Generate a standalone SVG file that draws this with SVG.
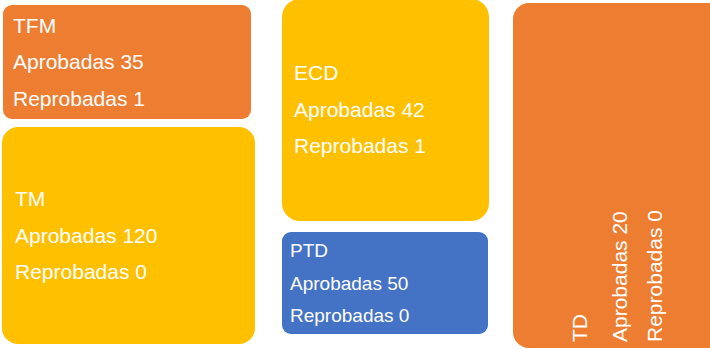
<svg xmlns="http://www.w3.org/2000/svg" width="710" height="349" viewBox="0 0 710 349">
<style>
.o{fill:#ED7D31}.y{fill:#FFC000}.b{fill:#4472C4}
text{font-family:"Liberation Sans",Arial,sans-serif;fill:#fff;font-size:21px}
.s{font-size:19px}
</style>
<rect width="710" height="349" fill="#fff"/>
<g id="connectors"/>
<g id="TFM">
<rect class="o" x="3" y="5" width="248" height="114" rx="9"/>
<text x="13" y="33">TFM</text>
<text x="13" y="69">Aprobadas 35</text>
<text x="13" y="106">Reprobadas 1</text>
</g>
<g id="TM">
<rect class="y" x="2" y="127" width="253" height="217" rx="16"/>
<text x="15" y="206">TM</text>
<text x="15" y="243">Aprobadas 120</text>
<text x="15" y="279">Reprobadas 0</text>
</g>
<g id="ECD">
<rect class="y" x="282" y="-1" width="207" height="222" rx="18"/>
<text x="294" y="80">ECD</text>
<text x="294" y="117">Aprobadas 42</text>
<text x="294" y="153">Reprobadas 1</text>
</g>
<g id="PTD">
<rect class="b" x="282" y="232" width="206" height="102" rx="9"/>
<text class="s" x="290" y="257">PTD</text>
<text class="s" x="290" y="290">Aprobadas 50</text>
<text class="s" x="290" y="322">Reprobadas 0</text>
</g>
<g id="TD">
<rect class="o" x="513" y="3" width="220" height="345" rx="16"/>
<text transform="translate(587,342) rotate(-90)">TD</text>
<text transform="translate(627,342) rotate(-90)">Aprobadas 20</text>
<text transform="translate(662,342) rotate(-90)">Reprobadas 0</text>
</g>
</svg>
